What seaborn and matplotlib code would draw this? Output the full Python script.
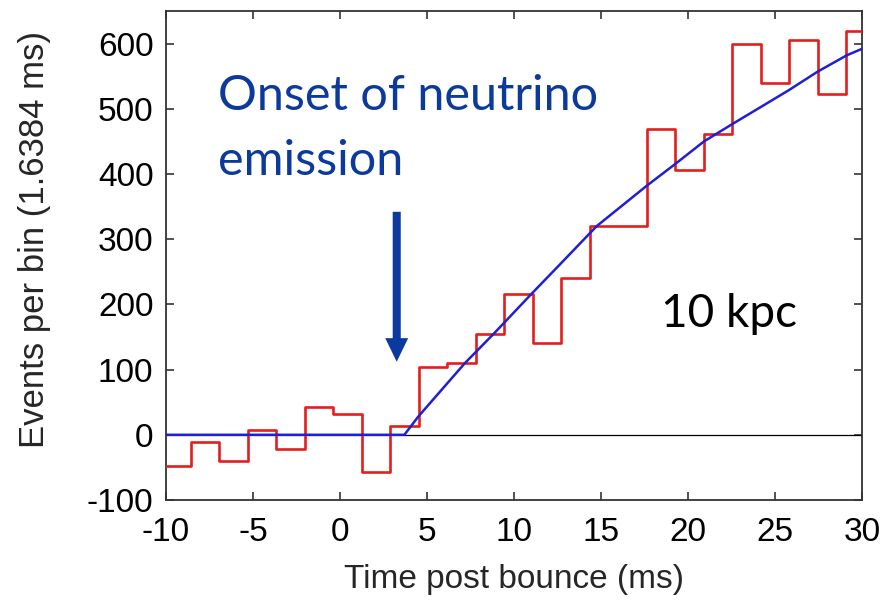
import numpy as np
import pandas as pd
import matplotlib
matplotlib.use("Agg")
import matplotlib.pyplot as plt
import seaborn as sns

# ---- data ----
bin_left = [-10.22, -8.58, -6.94, -5.30, -3.67, -2.03, -0.39, 1.25, 2.89,
            4.53, 6.16, 7.80, 9.44, 11.08, 12.72, 14.35, 15.99, 17.63,
            19.27, 20.91, 22.54, 24.18, 25.82, 27.46, 29.10]
bin_right_end = 30.74
counts = [-48, -11, -40, 7, -22, 42, 32, -57, 13,
          104, 110, 154, 216, 141, 240, 320, 321, 469,
          406, 462, 600, 539, 606, 522, 619]

fit_t = [-10, 3.7, 4.5, 7.18, 8.8, 11.0, 12.7, 14.75, 17.63, 19.25,
         20.92, 22.57, 24.2, 25.82, 27.45, 29.12, 30]
fit_v = [0, 0, 28, 110, 154, 216, 263, 320, 382, 415,
         450, 477, 503, 529, 557, 582, 592]

xticks = [-10, -5, 0, 5, 10, 15, 20, 25, 30]
yticks = [-100, 0, 100, 200, 300, 400, 500, 600]

sns.set_theme(style="ticks")
plt.rcParams['font.family'] = ['Liberation Sans', 'DejaVu Sans']

fig = plt.figure(figsize=(8.92, 6.01), dpi=100)
ax = fig.add_axes([166/892, 1-500/601, (862-166)/892, (500-11)/601])

hist_df = pd.DataFrame({"t": bin_left + [bin_right_end],
                        "n": counts + [counts[-1]]})
fit_df = pd.DataFrame({"t": fit_t, "v": fit_v})

ax.axhline(0, color="black", lw=0.9, zorder=1)
sns.lineplot(data=hist_df, x="t", y="n", drawstyle="steps-post",
             estimator=None, sort=False, color="#e41d1d", lw=1.9, ax=ax, zorder=3)
sns.lineplot(data=fit_df, x="t", y="v", estimator=None, sort=False,
             color="#1f1fd4", lw=1.8, ax=ax, zorder=4)

ax.set_xlim(-10, 30)
ax.set_ylim(-100, 650)
ax.set_xticks(xticks)
ax.set_yticks(yticks)
ax.set_xticklabels([str(v) for v in xticks])
ax.set_yticklabels([str(v) for v in yticks])
ax.tick_params(direction="in", length=6, width=1.2, colors="#333333",
               labelcolor="black", labelsize=24, top=True, right=True)
ax.tick_params(axis="y", pad=9)
ax.tick_params(axis="x", pad=12)
for s in ax.spines.values():
    s.set_visible(True)
    s.set_color("#333333")
    s.set_linewidth(1.3)

ax.set_xlabel("Time post bounce (ms)", fontsize=24, labelpad=12)
ax.set_ylabel("Events per bin (1.6384 ms)", fontsize=25)
ax.yaxis.set_label_coords(-0.165, 0.532)

# arrow
ax.annotate("", xy=(3.26, 112), xytext=(3.26, 342),
            arrowprops=dict(facecolor="#0a3a9e", edgecolor="none",
                            width=5.8, headwidth=16.5, headlength=17, shrink=0))

txt_color = "#0b3a9c"
fig.text(218/892, 1-110/601, "Onset of neutrino", color=txt_color,
         fontsize=35, family=["Lato", "DejaVu Sans"], va="baseline", ha="left")
fig.text(218/892, 1-175/601, "emission", color=txt_color,
         fontsize=35, family=["Lato", "DejaVu Sans"], va="baseline", ha="left")
fig.text(661/892, 1-327/601, "10 kpc", color="black",
         fontsize=33, family=["Lato", "DejaVu Sans"], va="baseline", ha="left")

fig.savefig("out.png", dpi=100)
